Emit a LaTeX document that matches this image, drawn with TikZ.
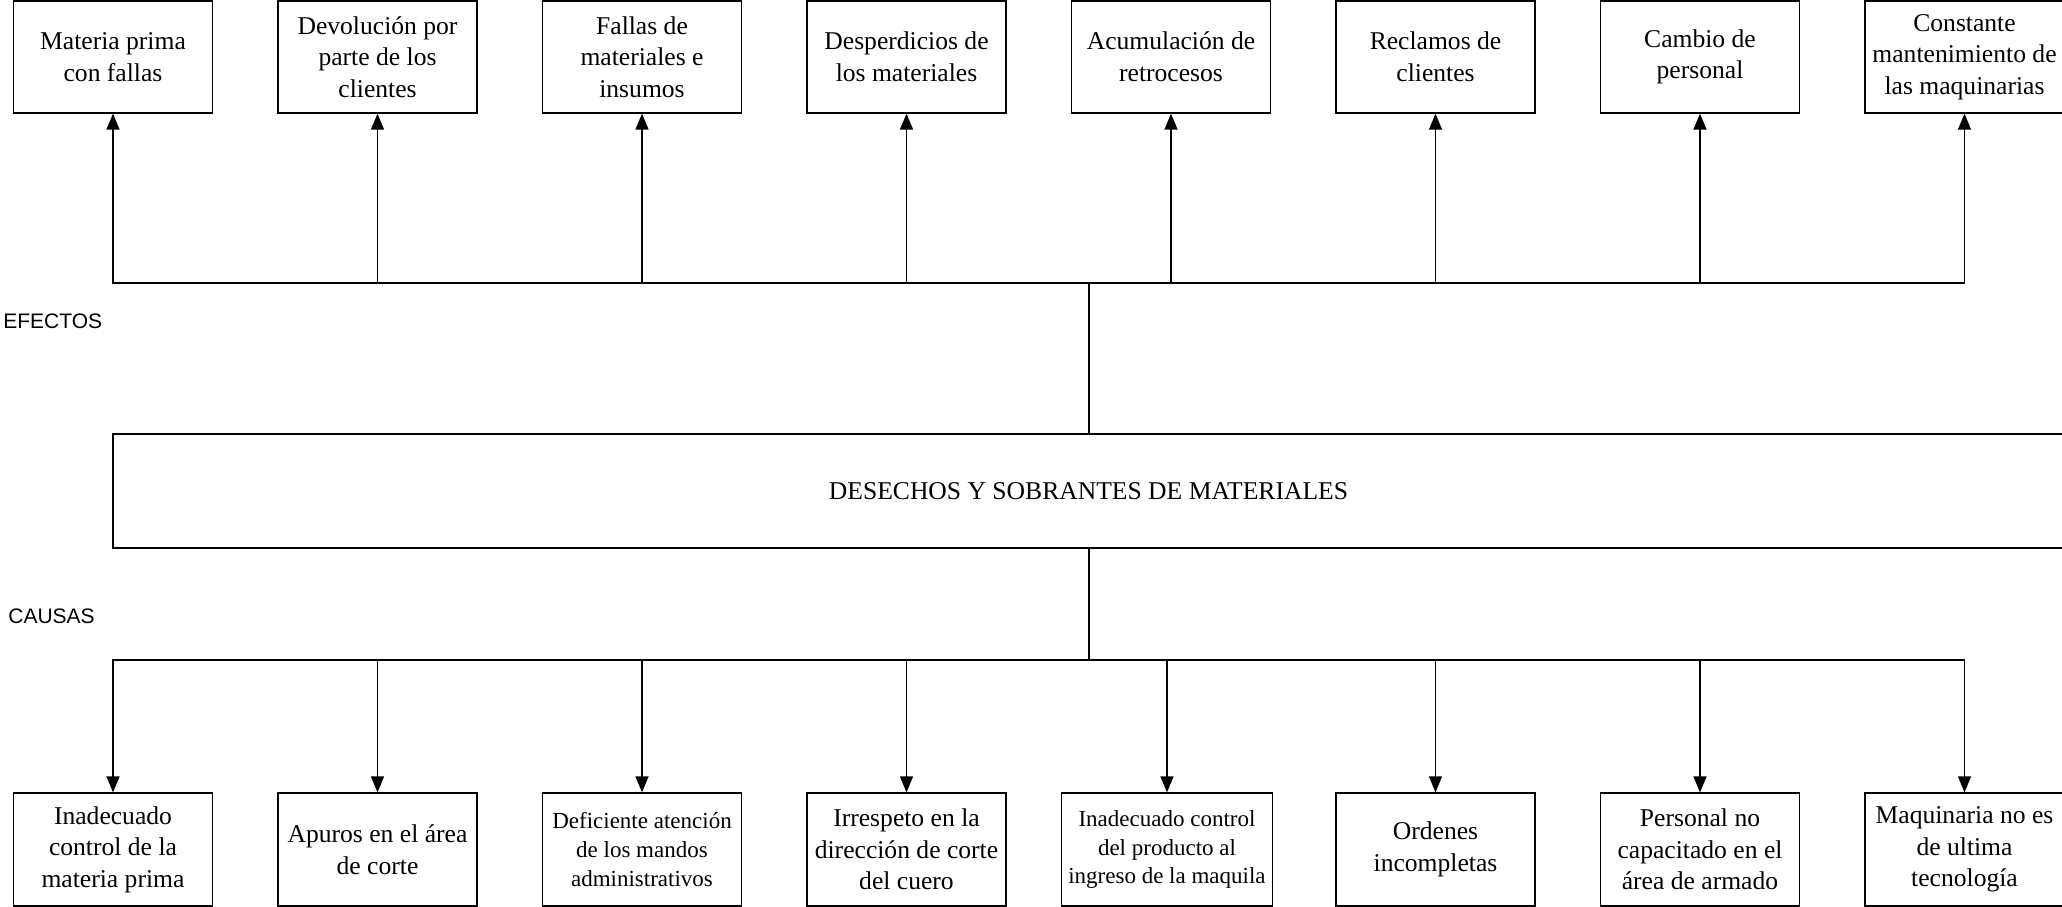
\documentclass[tikz,border=0pt]{standalone}
\usepackage{fontspec}
\setmainfont{Liberation Serif}
\newfontfamily\labelfont{Liberation Sans}
\usetikzlibrary{arrows.meta}

\begin{document}
\begin{tikzpicture}[x=0.5pt,y=-0.5pt,
  box/.style={draw, line width=0.65pt, minimum width=99.5pt, minimum height=56pt,
    inner sep=0pt, align=center, font=\fontsize{12.8}{15.8}\selectfont},
  smallbox/.style={box, font=\fontsize{11.5}{14.3}\selectfont},
  link/.style={line width=0.7pt},
  trunk/.style={line width=1pt},
  tip/.style={-{Triangle[width=6.5pt,length=8pt]}},
  tag/.style={anchor=west, inner sep=0pt, font=\labelfont\fontsize{10.5}{12}\selectfont}]

\useasboundingbox (0,0) rectangle (2062,906);
\clip (0,0) rectangle (2062,906);

% effects (top row)
\node[box] (e1) at (113,57)    {Materia prima\\con fallas};
\node[box] (e2) at (377.5,57)  {Devolución por\\parte de los\\clientes};
\node[box] (e3) at (642,57)    {Fallas de\\materiales e\\insumos};
\node[box] (e4) at (906.5,57)  {Desperdicios de\\los materiales};
\node[box] (e5) at (1171,57)   {Acumulación de\\retrocesos};
\node[box] (e6) at (1435.5,57) {Reclamos de\\clientes};
\node[box] (e7) at (1700,57)   {Cambio de\\personal};
\node[box] (e8) at (1964.5,57) {Constante\\mantenimiento de\\las maquinarias};

% central problem
\node[box, minimum width=975.5pt, minimum height=57pt] (mid) at (1088.5,491)
  {DESECHOS Y SOBRANTES DE MATERIALES};

% causes (bottom row)
\node[box, minimum height=56.5pt] (c1) at (113,849.5)    {Inadecuado\\control de la\\materia prima};
\node[box, minimum height=56.5pt] (c2) at (377.5,849.5)  {Apuros en el área\\de corte};
\node[smallbox, minimum height=56.5pt] (c3) at (642,849.5) {Deficiente atención\\de los mandos\\administrativos};
\node[box, minimum height=56.5pt] (c4) at (906.5,849.5)  {Irrespeto en la\\dirección de corte\\del cuero};
\node[smallbox, minimum height=56.5pt, minimum width=105.5pt] (c5) at (1167,849.5)
  {Inadecuado control\\del producto al\\ingreso de la maquila};
\node[box, minimum height=56.5pt] (c6) at (1435.5,849.5) {Ordenes\\incompletas};
\node[box, minimum height=56.5pt] (c7) at (1700,849.5)   {Personal no\\capacitado en el\\área de armado};
\node[box, minimum height=56.5pt] (c8) at (1964.5,849.5) {Maquinaria no es\\de ultima\\tecnología};

% section labels
\node[tag] (lef) at (3,321)  {EFECTOS};
\node[tag] (lca) at (8,616)  {CAUSAS};

% branching points
\coordinate (ehub) at (1089,283);
\coordinate (chub) at (1089,660);

\draw[trunk] (mid.north -| ehub) -- (ehub);
\draw[trunk] (mid.south -| chub) -- (chub);

\foreach \n in {1,...,8} {
  \draw[link,tip] (ehub) -| (e\n.south);
  \draw[link,tip] (chub) -| ([xshift=0pt]c\n.north);
}
\end{tikzpicture}
\end{document}
